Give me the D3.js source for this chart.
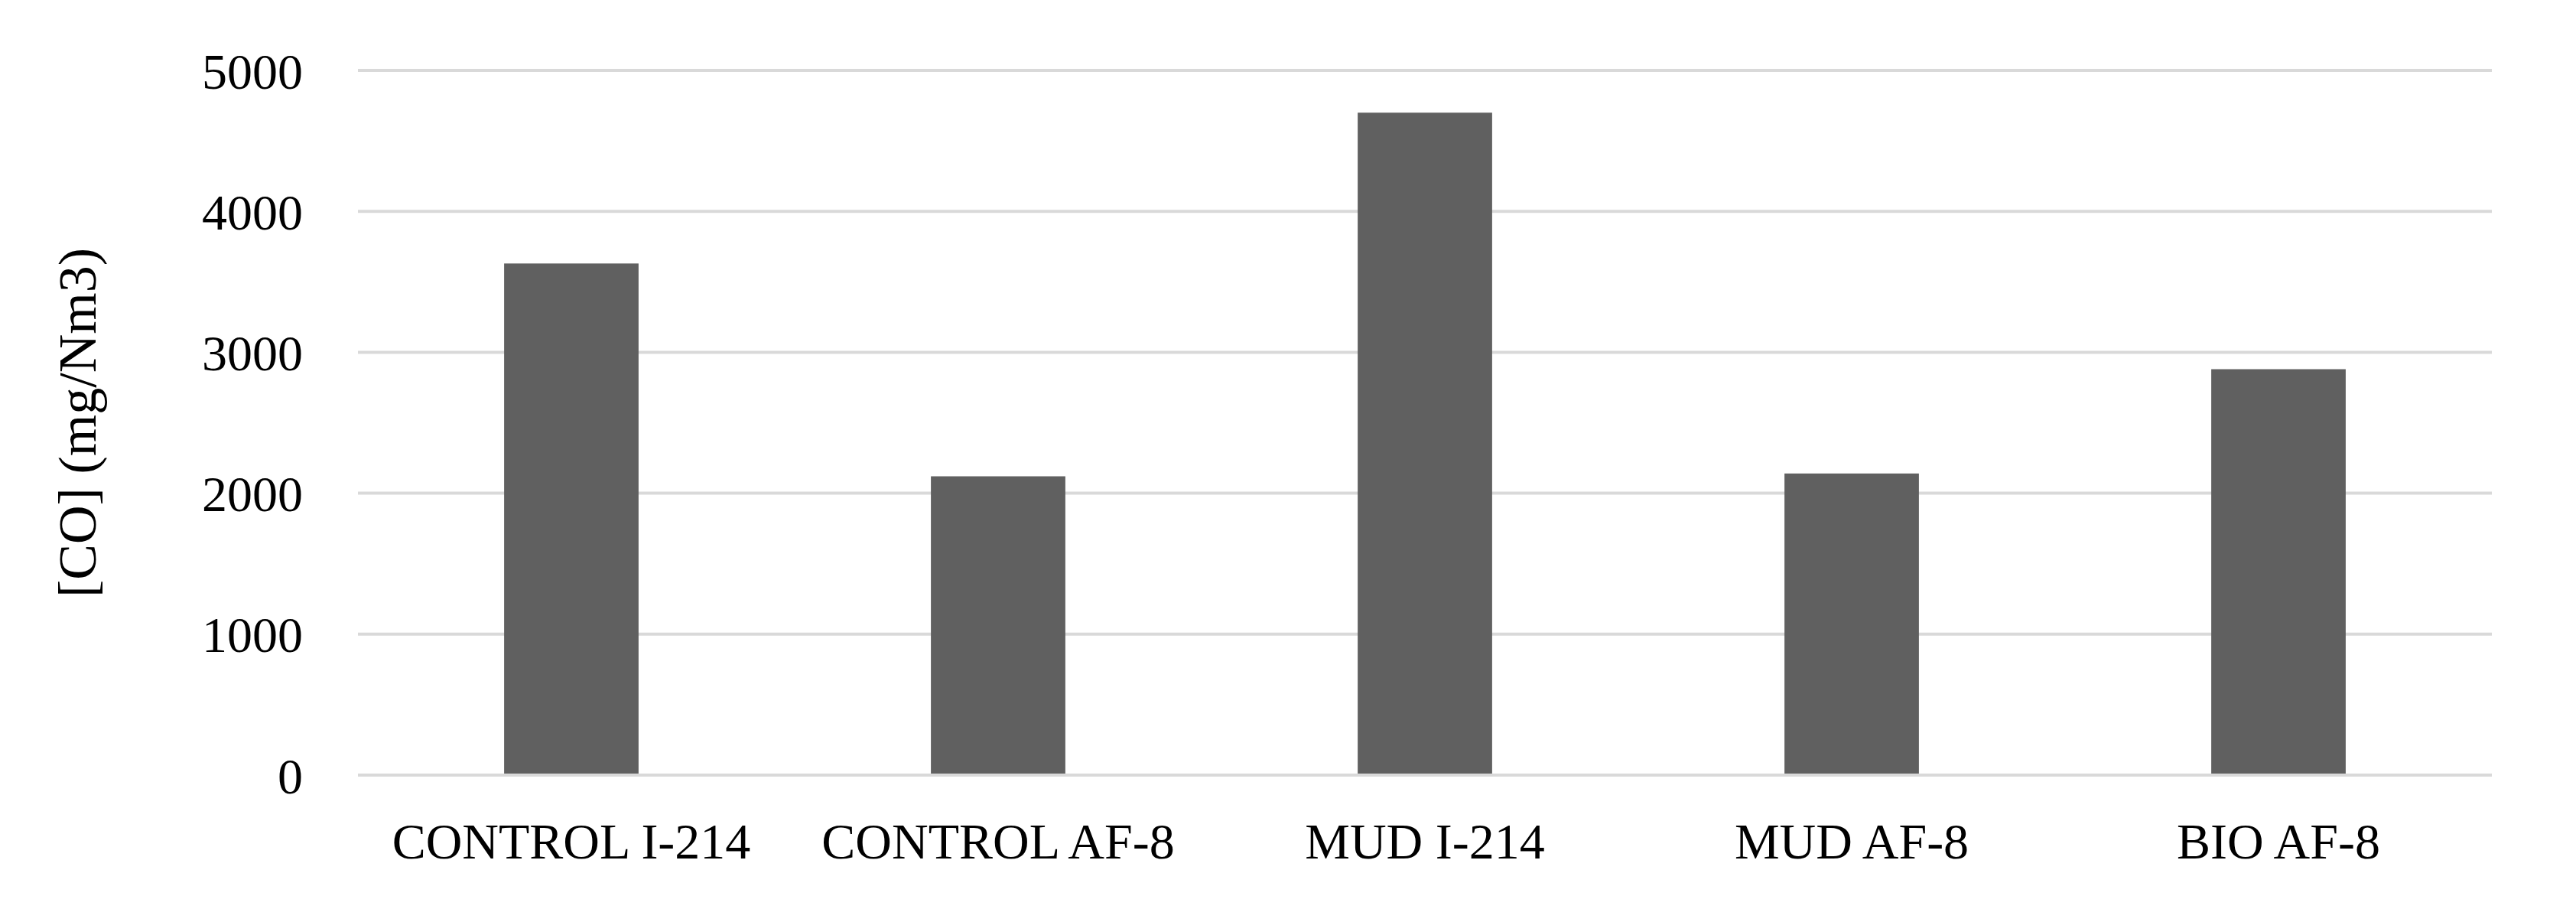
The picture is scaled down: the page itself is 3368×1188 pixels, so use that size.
<!DOCTYPE html>
<html>
<head>
<meta charset="utf-8">
<script src="https://cdn.jsdelivr.net/npm/d3@7"></script>
<style>
  body { margin: 0; background: #fff; }
  text { font-family: "Liberation Serif", "DejaVu Serif", serif; fill: #000; }
</style>
</head>
<body>
<div id="chart"></div>
<script>
// chart data
var categories = ['CONTROL I-214', 'CONTROL AF-8', 'MUD I-214', 'MUD AF-8', 'BIO AF-8']
var coValues = [3630, 2120, 4700, 2140, 2880]
var yTicks = [0, 1000, 2000, 3000, 4000, 5000]

var W = 3368, H = 1188
var margin = { top: 92, right: 110, bottom: 175, left: 468 }
var width = W - margin.left - margin.right
var height = H - margin.top - margin.bottom

var svg = d3.select('#chart').append('svg')
  .attr('width', W).attr('height', H)
var g = svg.append('g')
  .attr('transform', 'translate(' + margin.left + ',' + margin.top + ')')

var x = d3.scaleBand().domain(categories).range([0, width]).paddingInner(0.685).paddingOuter(0.3425)
var y = d3.scaleLinear().domain([0, 5000]).range([height, 0])

// gridlines
g.selectAll('.grid').data(yTicks).enter().append('line')
  .attr('x1', 0).attr('x2', width)
  .attr('y1', function (d) { return y(d) }).attr('y2', function (d) { return y(d) })
  .attr('stroke', '#d9d9d9').attr('stroke-width', 4)

// bars
g.selectAll('.bar').data(coValues).enter().append('rect')
  .attr('x', function (d, i) { return x(categories[i]) })
  .attr('width', x.bandwidth())
  .attr('y', function (d) { return y(d) })
  .attr('height', function (d) { return height - y(d) - 2 })
  .attr('fill', '#606060')

// y axis
var yAxis = g.append('g').call(d3.axisLeft(y).tickValues(yTicks).tickFormat(d3.format('d')).tickSize(0).tickPadding(72))
yAxis.select('.domain').remove()
yAxis.selectAll('text').style('font-size', '66px').attr('dy', '0.35em')

// x axis
var xAxis = g.append('g').attr('transform', 'translate(0,' + height + ')')
  .call(d3.axisBottom(x).tickSize(0).tickPadding(62))
xAxis.select('.domain').remove()
xAxis.selectAll('text').style('font-size', '66px').attr('dy', '0.71em')

// y title
svg.append('text')
  .attr('transform', 'translate(125,' + (margin.top + height / 2) + ') rotate(-90)')
  .attr('text-anchor', 'middle')
  .style('font-size', '70px')
  .text('[CO] (mg/Nm3)')
</script>
</body>
</html>
